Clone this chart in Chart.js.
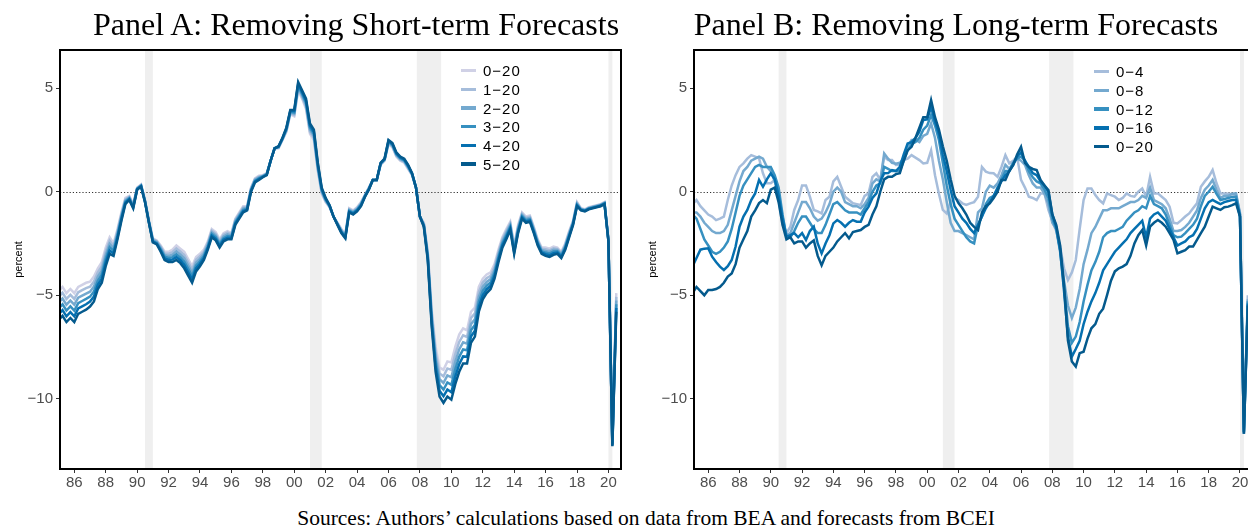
<!DOCTYPE html>
<html>
<head>
<meta charset="utf-8">
<script src="https://cdn.jsdelivr.net/npm/chart.js@4.4.1/dist/chart.umd.min.js"></script>
<style>
  html, body { margin: 0; padding: 0; background: #fff; }
  body { width: 1248px; height: 527px; overflow: hidden; position: relative; font-family: "Liberation Sans", Arial, sans-serif; }
  canvas { position: absolute; top: 0; }
  #chartA { left: 0; }
  #chartB { left: 634px; }
  .title { position: absolute; top: 8px; font-family: "Liberation Serif", "Times New Roman", serif; font-size: 32px; line-height: 32px; white-space: nowrap; transform: translateX(-50%); color: #000; }
  .legend { position: absolute; font-size: 15px; letter-spacing: 1px; color: #000; }
  .legend .item { display: flex; align-items: center; height: 18.7px; }
  .legend .swatch { width: 15px; height: 3.5px; margin-right: 7px; }
  .sources { position: absolute; left: 646px; top: 508px; transform: translateX(-50%); font-family: "Liberation Serif", "Times New Roman", serif; font-size: 21.5px; line-height: 21.5px; white-space: nowrap; color: #000; }
</style>
</head>
<body>
<canvas id="chartA" width="640" height="500"></canvas>
<canvas id="chartB" width="640" height="500"></canvas>
<div class="title" style="left:356px">Panel A: Removing Short-term Forecasts</div>
<div class="title" style="left:956px">Panel B: Removing Long-term Forecasts</div>
<div class="legend" id="legendA" style="left:461px; top:61.3px"></div>
<div class="legend" id="legendB" style="left:1094px; top:62.4px"></div>
<div class="sources">Sources: Authors’ calculations based on data from BEA and forecasts from BCEI</div>
<script>
// quarterly observations, 1985Q1 .. 2020Q3
const firstYear = 1985;
const xMin = 1985.09, xMax = 2020.8;
const xTicks = [1986, 1988, 1990, 1992, 1994, 1996, 1998, 2000, 2002, 2004, 2006, 2008, 2010, 2012, 2014, 2016, 2018, 2020];
const xTickLabels = ['86', '88', '90', '92', '94', '96', '98', '00', '02', '04', '06', '08', '10', '12', '14', '16', '18', '20'];
const yMin = -13.4, yMax = 6.85;
const yTicks = [-10, -5, 0, 5];
const yTickLabels = ['\u221210', '\u22125', '0', '5'];
const recessions = [[1990.5, 1991.0], [2001.0, 2001.75], [2007.8, 2009.35], [2020.0, 2020.25]];

// Panel A: removing short-term forecasts
const panelA_0_20 = [
  -4.8, -4.6, -4.9, -4.7,
  -4.9, -4.6, -4.5, -4.4,
  -4.35, -4.1, -3.7, -3.4,
  -2.7, -2.2, -2.5, -1.8,
  -1.0, -0.3, -0.2, -0.6,
  0.2, 0.35, -0.4, -1.4,
  -2.25, -2.35, -2.6, -2.9,
  -2.9, -2.8, -2.6, -2.75,
  -2.9, -3.25, -3.6, -3.15,
  -3.0, -2.8, -2.4, -1.8,
  -1.95, -2.3, -2.0, -1.9,
  -2.0, -1.3, -1.0, -0.7,
  -0.7, 0.2, 0.65, 0.77,
  0.8, 0.9, 1.5, 2.1,
  2.1, 2.5, 2.9, 3.75,
  3.65, 4.9, 4.5, 4.0,
  2.8, 2.5, 1.0, -0.1,
  -0.5, -0.75, -1.2, -1.5,
  -1.8, -2.05, -0.8, -0.9,
  -0.75, -0.5, -0.15, 0.2,
  0.57, 0.57, 1.3, 1.5,
  2.3, 2.15, 1.7, 1.5,
  1.4, 1.1, 0.8, 0.2,
  -1.2, -1.5, -2.9, -5.7,
  -7.5, -8.5, -8.6, -8.2,
  -8.25, -7.5, -6.9, -6.6,
  -6.7, -5.8, -5.6, -4.6,
  -4.2, -4.0, -3.9, -3.5,
  -2.8, -2.2, -1.8, -1.45,
  -2.6, -1.6, -1.0, -1.2,
  -1.15, -1.7, -2.3, -2.7,
  -2.7, -2.75, -2.65, -2.7,
  -2.9, -2.5, -1.9, -1.4,
  -0.5, -0.8, -0.85, -0.75,
  -0.7, -0.65, -0.6, -0.5,
  -2.3, -12.1, -4.9
];
const panelA_1_20 = [
  -5.08, -4.88, -5.18, -4.98,
  -5.18, -4.86, -4.76, -4.66,
  -4.59, -4.34, -3.9, -3.6,
  -2.88, -2.36, -2.62, -1.9,
  -1.08, -0.36, -0.24, -0.64,
  0.18, 0.33, -0.42, -1.42,
  -2.29, -2.39, -2.66, -2.98,
  -3.0, -2.92, -2.74, -2.89,
  -3.06, -3.41, -3.76, -3.29,
  -3.12, -2.9, -2.48, -1.88,
  -2.03, -2.38, -2.08, -1.98,
  -2.06, -1.36, -1.06, -0.76,
  -0.74, 0.16, 0.61, 0.73,
  0.78, 0.88, 1.5, 2.1,
  2.12, 2.52, 2.94, 3.79,
  3.71, 4.98, 4.58, 4.1,
  2.9, 2.6, 1.08, -0.04,
  -0.46, -0.73, -1.2, -1.52,
  -1.84, -2.09, -0.84, -0.94,
  -0.79, -0.54, -0.17, 0.18,
  0.57, 0.57, 1.32, 1.52,
  2.34, 2.19, 1.74, 1.54,
  1.44, 1.14, 0.82, 0.2,
  -1.2, -1.54, -2.98, -5.86,
  -7.74, -8.78, -8.92, -8.54,
  -8.61, -7.86, -7.26, -6.94,
  -7.02, -6.1, -5.88, -4.84,
  -4.4, -4.18, -4.06, -3.64,
  -2.92, -2.3, -1.9, -1.53,
  -2.68, -1.68, -1.06, -1.26,
  -1.21, -1.76, -2.36, -2.76,
  -2.78, -2.83, -2.73, -2.76,
  -2.96, -2.56, -1.96, -1.44,
  -0.54, -0.82, -0.87, -0.77,
  -0.72, -0.67, -0.62, -0.52,
  -2.32, -12.14, -5.08
];
const panelA_2_20 = [
  -5.36, -5.16, -5.46, -5.26,
  -5.46, -5.12, -5.02, -4.92,
  -4.83, -4.58, -4.1, -3.8,
  -3.06, -2.52, -2.74, -2.0,
  -1.16, -0.42, -0.28, -0.68,
  0.16, 0.31, -0.44, -1.44,
  -2.33, -2.43, -2.72, -3.06,
  -3.1, -3.04, -2.88, -3.03,
  -3.22, -3.57, -3.92, -3.43,
  -3.24, -3.0, -2.56, -1.96,
  -2.11, -2.46, -2.16, -2.06,
  -2.12, -1.42, -1.12, -0.82,
  -0.78, 0.12, 0.57, 0.69,
  0.76, 0.86, 1.5, 2.1,
  2.14, 2.54, 2.98, 3.83,
  3.77, 5.06, 4.66, 4.2,
  3.0, 2.7, 1.16, 0.02,
  -0.42, -0.71, -1.2, -1.54,
  -1.88, -2.13, -0.88, -0.98,
  -0.83, -0.58, -0.19, 0.16,
  0.57, 0.57, 1.34, 1.54,
  2.38, 2.23, 1.78, 1.58,
  1.48, 1.18, 0.84, 0.2,
  -1.2, -1.58, -3.06, -6.02,
  -7.98, -9.06, -9.24, -8.88,
  -8.97, -8.22, -7.62, -7.28,
  -7.34, -6.4, -6.16, -5.08,
  -4.6, -4.36, -4.22, -3.78,
  -3.04, -2.4, -2.0, -1.61,
  -2.76, -1.76, -1.12, -1.32,
  -1.27, -1.82, -2.42, -2.82,
  -2.86, -2.91, -2.81, -2.82,
  -3.02, -2.62, -2.02, -1.48,
  -0.58, -0.84, -0.89, -0.79,
  -0.74, -0.69, -0.64, -0.54,
  -2.34, -12.18, -5.26
];
const panelA_3_20 = [
  -5.64, -5.44, -5.74, -5.54,
  -5.74, -5.38, -5.28, -5.18,
  -5.07, -4.82, -4.3, -4.0,
  -3.24, -2.68, -2.86, -2.1,
  -1.24, -0.48, -0.32, -0.72,
  0.14, 0.29, -0.46, -1.46,
  -2.37, -2.47, -2.78, -3.14,
  -3.2, -3.16, -3.02, -3.17,
  -3.38, -3.73, -4.08, -3.57,
  -3.36, -3.1, -2.64, -2.04,
  -2.19, -2.54, -2.24, -2.14,
  -2.18, -1.48, -1.18, -0.88,
  -0.82, 0.08, 0.53, 0.65,
  0.74, 0.84, 1.5, 2.1,
  2.16, 2.56, 3.02, 3.87,
  3.83, 5.14, 4.74, 4.3,
  3.1, 2.8, 1.24, 0.08,
  -0.38, -0.69, -1.2, -1.56,
  -1.92, -2.17, -0.92, -1.02,
  -0.87, -0.62, -0.21, 0.14,
  0.57, 0.57, 1.36, 1.56,
  2.42, 2.27, 1.82, 1.62,
  1.52, 1.22, 0.86, 0.2,
  -1.2, -1.62, -3.14, -6.18,
  -8.22, -9.34, -9.56, -9.22,
  -9.33, -8.58, -7.98, -7.62,
  -7.66, -6.7, -6.44, -5.32,
  -4.8, -4.54, -4.38, -3.92,
  -3.16, -2.5, -2.1, -1.69,
  -2.84, -1.84, -1.18, -1.38,
  -1.33, -1.88, -2.48, -2.88,
  -2.94, -2.99, -2.89, -2.88,
  -3.08, -2.68, -2.08, -1.52,
  -0.62, -0.86, -0.91, -0.81,
  -0.76, -0.71, -0.66, -0.56,
  -2.36, -12.22, -5.44
];
const panelA_4_20 = [
  -5.92, -5.72, -6.02, -5.82,
  -6.02, -5.64, -5.54, -5.44,
  -5.31, -5.06, -4.5, -4.2,
  -3.42, -2.84, -2.98, -2.2,
  -1.32, -0.54, -0.36, -0.76,
  0.12, 0.27, -0.48, -1.48,
  -2.41, -2.51, -2.84, -3.22,
  -3.3, -3.28, -3.16, -3.31,
  -3.54, -3.89, -4.24, -3.71,
  -3.48, -3.2, -2.72, -2.12,
  -2.27, -2.62, -2.32, -2.22,
  -2.24, -1.54, -1.24, -0.94,
  -0.86, 0.04, 0.49, 0.61,
  0.72, 0.82, 1.5, 2.1,
  2.18, 2.58, 3.06, 3.91,
  3.89, 5.22, 4.82, 4.4,
  3.2, 2.9, 1.32, 0.14,
  -0.34, -0.67, -1.2, -1.58,
  -1.96, -2.21, -0.96, -1.06,
  -0.91, -0.66, -0.23, 0.12,
  0.57, 0.57, 1.38, 1.58,
  2.46, 2.31, 1.86, 1.66,
  1.56, 1.26, 0.88, 0.2,
  -1.2, -1.66, -3.22, -6.34,
  -8.46, -9.62, -9.88, -9.56,
  -9.69, -8.94, -8.34, -7.96,
  -7.98, -7.0, -6.72, -5.56,
  -5.0, -4.72, -4.54, -4.06,
  -3.28, -2.6, -2.2, -1.77,
  -2.92, -1.92, -1.24, -1.44,
  -1.39, -1.94, -2.54, -2.94,
  -3.02, -3.07, -2.97, -2.94,
  -3.14, -2.74, -2.14, -1.56,
  -0.66, -0.88, -0.93, -0.83,
  -0.78, -0.73, -0.68, -0.58,
  -2.38, -12.26, -5.62
];
const panelA_5_20 = [
  -6.2, -6.0, -6.3, -6.1,
  -6.3, -5.9, -5.8, -5.7,
  -5.55, -5.3, -4.7, -4.4,
  -3.6, -3.0, -3.1, -2.3,
  -1.4, -0.6, -0.4, -0.8,
  0.1, 0.25, -0.5, -1.5,
  -2.45, -2.55, -2.9, -3.3,
  -3.4, -3.4, -3.3, -3.45,
  -3.7, -4.05, -4.4, -3.85,
  -3.6, -3.3, -2.8, -2.2,
  -2.35, -2.7, -2.4, -2.3,
  -2.3, -1.6, -1.3, -1.0,
  -0.9, 0.0, 0.45, 0.57,
  0.7, 0.8, 1.5, 2.1,
  2.2, 2.6, 3.1, 3.95,
  3.95, 5.3, 4.9, 4.5,
  3.3, 3.0, 1.4, 0.2,
  -0.3, -0.65, -1.2, -1.6,
  -2.0, -2.25, -1.0, -1.1,
  -0.95, -0.7, -0.25, 0.1,
  0.57, 0.57, 1.4, 1.6,
  2.5, 2.35, 1.9, 1.7,
  1.6, 1.3, 0.9, 0.2,
  -1.2, -1.7, -3.3, -6.5,
  -8.7, -9.9, -10.2, -9.9,
  -10.05, -9.3, -8.7, -8.3,
  -8.3, -7.3, -7.0, -5.8,
  -5.2, -4.9, -4.7, -4.2,
  -3.4, -2.7, -2.3, -1.85,
  -3.0, -2.0, -1.3, -1.5,
  -1.45, -2.0, -2.6, -3.0,
  -3.1, -3.15, -3.05, -3.0,
  -3.2, -2.8, -2.2, -1.6,
  -0.7, -0.9, -0.95, -0.85,
  -0.8, -0.75, -0.7, -0.6,
  -2.4, -12.3, -5.8
];

// Panel B: removing long-term forecasts
const panelB_0_4 = [
  -0.6, -0.4, -0.7, -0.9,
  -1.1, -1.2, -1.37, -1.3,
  -1.2, -0.4, 0.3, 0.8,
  1.2, 1.37, 1.6, 1.77,
  1.7, 1.61, 0.89, 0.41,
  0.41, 0.57, -0.4, -1.6,
  -2.0, -1.69, -0.88, -0.4,
  0.3, 0.3, -0.24, -0.88,
  -0.95, -1.05, -0.4, -0.24,
  0.5, 0.72, 0.24, -0.24,
  -0.4, -0.56, -0.6, -0.64,
  -0.2, -0.08, 0.72, 0.89,
  0.57, 1.69, 1.53, 1.53,
  1.29, 1.3, 1.53, 1.6,
  1.77, 1.65, 1.53, 1.37,
  1.4, 2.0, 0.8, -0.1,
  -0.88, -1.05, -0.5, -0.3,
  -0.4, -0.56, -0.64, -0.56,
  -0.5, -0.24, 1.2, 0.97,
  0.9, 0.89, 0.72, 1.2,
  1.77, 1.37, 1.5, 1.69,
  0.57, 0.2, -0.24, -0.3,
  -0.4, -0.08, -0.08, -0.88,
  -1.4, -1.9, -2.65, -3.7,
  -4.27, -3.9, -3.3, -1.8,
  -0.4, 0.16, 0.16, -0.16,
  -0.4, -0.56, -0.08, -0.16,
  -0.24, -0.4, -0.3, -0.08,
  -0.2, -0.24, 0.0, 0.16,
  -0.24, 0.72, -0.08, -0.08,
  -0.24, -0.4, -0.72, -1.5,
  -1.53, -1.37, -1.2, -1.05,
  -0.8, -0.56, 0.24, 0.5,
  0.72, 1.05, 0.41, -0.08,
  -0.08, -0.1, -0.12, -0.16,
  -1.0, -11.5, -5.0
];
const panelB_0_8 = [
  -1.0, -1.0, -1.2, -1.5,
  -1.7, -1.9, -2.0, -2.0,
  -1.9, -1.6, -0.9, -0.2,
  0.5, 1.0, 1.2, 1.5,
  1.6, 1.7, 1.6, 1.2,
  1.0, 0.5, -0.1, -1.2,
  -2.1, -2.0, -1.5, -1.0,
  -0.5, -0.5, -0.8, -1.2,
  -1.4, -1.3, -1.0, -0.6,
  0.0, 0.2, 0.0, -0.5,
  -0.6, -0.7, -0.7, -0.8,
  -0.6, -0.3, 0.4, 0.6,
  0.5, 1.85, 1.6, 1.4,
  1.35, 1.4, 1.6, 2.2,
  2.5, 2.5, 2.4, 2.7,
  2.8, 3.3, 2.6, 1.5,
  0.6, -0.5, -1.5, -1.9,
  -1.9, -2.0, -2.1, -2.2,
  -2.3, -1.0, -0.8, 0.0,
  0.3, 0.2, 0.4, 0.8,
  1.3, 1.1, 1.4, 1.6,
  1.5, 1.3, 0.8, 0.4,
  0.2, 0.2, -0.1, -0.6,
  -1.5, -1.8, -2.8, -4.3,
  -5.5, -6.1, -5.6, -4.7,
  -3.5, -2.8, -2.0, -1.7,
  -1.3, -0.9, -0.9, -0.8,
  -0.8, -0.8, -0.7, -0.6,
  -0.5, -0.5, -0.4, -0.2,
  -0.3, 0.2, -0.4, -0.5,
  -0.6, -0.8, -1.3, -1.9,
  -1.9, -1.85, -1.7, -1.5,
  -1.2, -0.9, -0.3, 0.1,
  0.3, 0.57, 0.1, -0.3,
  -0.2, -0.2, -0.1, -0.08,
  -1.1, -11.6, -5.2
];
const panelB_0_12 = [
  -1.1, -1.3, -1.8, -2.3,
  -2.6, -2.9, -3.0, -2.9,
  -2.7, -2.4, -1.8, -1.0,
  -0.2, 0.3, 0.6, 0.9,
  1.2, 1.3, 1.2, 1.2,
  1.2, 0.8, 0.2, -1.1,
  -2.2, -2.2, -1.9, -1.5,
  -1.2, -1.2, -1.5, -1.8,
  -2.0, -2.0, -1.6, -1.1,
  -0.6, -0.5, -0.7, -0.9,
  -1.0, -1.0, -1.0, -1.1,
  -0.8, -0.5, 0.0, 0.3,
  0.4, 1.2, 1.1, 1.0,
  1.0, 1.0, 1.5, 2.0,
  2.3, 2.4, 2.6, 3.0,
  3.2, 3.7, 3.2, 2.5,
  1.4, 0.3, -0.6, -1.3,
  -1.6, -1.9, -2.2, -2.4,
  -2.5, -1.6, -1.2, -0.6,
  -0.3, -0.2, 0.1, 0.6,
  1.0, 1.0, 1.4, 1.6,
  1.7, 1.5, 1.0, 0.7,
  0.5, 0.4, 0.1, -0.3,
  -1.3, -1.8, -2.9, -4.6,
  -6.5, -7.3, -7.0, -6.3,
  -5.3, -4.5, -3.8, -3.4,
  -2.9, -2.2, -2.0, -1.9,
  -1.9, -1.8, -1.7, -1.4,
  -1.2, -1.0, -0.9, -0.7,
  -0.8, -0.2, -0.6, -0.7,
  -0.8, -1.1, -1.6, -2.1,
  -2.2, -2.17, -2.0, -1.8,
  -1.6, -1.3, -0.7, -0.2,
  0.0, 0.24, -0.1, -0.4,
  -0.35, -0.3, -0.25, -0.24,
  -1.1, -11.6, -5.3
];
const panelB_0_16 = [
  -3.6, -3.2, -2.8, -2.75,
  -2.73, -3.14, -3.4, -3.62,
  -3.78, -3.6, -3.3, -2.65,
  -1.69, -1.2, -0.88, -0.4,
  -0.08, 0.57, 0.24, 0.6,
  0.89, 0.6, -0.2, -1.3,
  -2.17, -2.1, -2.0, -2.2,
  -2.0, -2.33, -1.9, -1.69,
  -2.5, -2.98, -2.5, -2.1,
  -1.53, -1.37, -1.5, -1.69,
  -1.5, -1.37, -1.45, -1.45,
  -1.0, -0.72, -0.3, -0.08,
  0.5, 0.89, 0.9, 1.05,
  1.0, 1.2, 1.8, 2.33,
  2.4, 2.6, 2.9, 3.46,
  3.5, 4.1, 3.4, 2.8,
  1.8, 1.0, 0.1, -0.7,
  -1.0, -1.3, -1.5, -1.8,
  -2.0, -1.6, -1.2, -0.8,
  -0.5, -0.2, 0.2, 0.5,
  0.8, 1.0, 1.3, 1.7,
  1.9, 1.5, 1.2, 0.9,
  0.8, 0.5, 0.3, 0.0,
  -1.1, -1.7, -2.8, -4.8,
  -7.0, -7.97, -7.6, -7.2,
  -6.4, -5.8, -5.3, -4.9,
  -4.4, -3.8, -3.5, -3.2,
  -2.9, -2.7, -2.5, -2.3,
  -2.0, -1.8, -1.6, -1.4,
  -2.2, -1.3, -1.1, -1.0,
  -1.2, -1.4, -1.8, -2.2,
  -2.6, -2.5, -2.4, -2.2,
  -2.1, -1.8, -1.3, -0.8,
  -0.5, -0.4, -0.5, -0.6,
  -0.5, -0.45, -0.4, -0.4,
  -1.2, -11.7, -5.4
];
const panelB_0_20 = [
  -4.9, -4.6, -4.8, -5.0,
  -4.75, -4.75, -4.7, -4.6,
  -4.4, -4.1, -3.95, -3.5,
  -2.7, -2.3, -1.9, -1.2,
  -0.9, -0.55, -0.4, -0.55,
  0.1, 0.2, -0.5, -1.6,
  -2.3, -2.2, -2.5, -2.4,
  -2.4, -2.7, -2.5, -2.35,
  -3.1, -3.55, -3.1, -2.9,
  -2.7, -2.4, -2.2, -2.0,
  -2.25, -1.95, -1.9, -1.85,
  -1.7, -1.6, -1.1, -0.7,
  0.0, 0.6, 0.72, 0.72,
  0.85, 0.9, 1.5, 2.0,
  2.17, 2.6, 3.1, 3.6,
  3.6, 4.43, 3.6, 3.0,
  2.2, 1.5, 0.6, -0.2,
  -0.55, -0.8, -1.1, -1.5,
  -1.7, -1.85, -1.0, -0.7,
  -0.56, -0.3, 0.0, 0.57,
  0.57, 1.0, 1.3, 1.8,
  2.17, 1.4, 1.2, 1.1,
  1.05, 0.57, 0.3, 0.08,
  -1.1, -1.6, -2.6, -4.5,
  -7.2, -8.2, -8.45, -7.8,
  -7.73, -7.1, -6.6, -6.4,
  -5.9, -5.65, -5.0, -4.3,
  -3.85, -3.7, -3.62, -3.5,
  -3.1, -2.5, -2.1, -1.85,
  -2.6, -1.69, -1.5, -1.37,
  -1.5, -1.69, -2.0, -2.33,
  -2.98, -2.9, -2.82, -2.65,
  -2.65, -2.33, -2.0, -1.69,
  -1.2, -0.72, -0.8, -0.88,
  -0.75, -0.72, -0.65, -0.56,
  -1.2, -11.7, -5.5
];

const labelsA = ['0\u221220', '1\u221220', '2\u221220', '3\u221220', '4\u221220', '5\u221220'];
const colorsA = ['#d0d1e6', '#a6bddb', '#74a9cf', '#3690c0', '#0570b0', '#045a8d'];
const labelsB = ['0\u22124', '0\u22128', '0\u221212', '0\u221216', '0\u221220'];
const colorsB = ['#a6bddb', '#74a9cf', '#3690c0', '#0570b0', '#045a8d'];

const seriesA = [panelA_0_20, panelA_1_20, panelA_2_20, panelA_3_20, panelA_4_20, panelA_5_20];
const seriesB = [panelB_0_4, panelB_0_8, panelB_0_12, panelB_0_16, panelB_0_20];

const quarters = panelA_5_20.map((_, i) => firstYear + i / 4);

// shaded recessions, dotted zero line and panel box
const panelDecor = {
    id: 'panelDecor',
    beforeDatasetsDraw(chart) {
        const { ctx, chartArea: a, scales: { x, y } } = chart;
        ctx.save();
        ctx.beginPath();
        ctx.rect(a.left, a.top, a.right - a.left, a.bottom - a.top);
        ctx.clip();
        ctx.fillStyle = '#efefef';
        recessions.forEach(([s, e]) => {
            const x0 = x.getPixelForValue(s);
            const x1 = x.getPixelForValue(e);
            ctx.fillRect(x0, a.top, x1 - x0, a.bottom - a.top);
        });
        const y0 = Math.round(y.getPixelForValue(0)) + 0.5;
        ctx.strokeStyle = '#333';
        ctx.lineWidth = 1;
        ctx.setLineDash([1.2, 2]);
        ctx.beginPath();
        ctx.moveTo(a.left, y0);
        ctx.lineTo(a.right, y0);
        ctx.stroke();
        ctx.restore();
    },
    afterDatasetsDraw(chart) {
        const { ctx, chartArea: a } = chart;
        ctx.save();
        ctx.strokeStyle = '#000';
        ctx.lineWidth = 2;
        ctx.strokeRect(a.left, a.top, a.right - a.left, a.bottom - a.top);
        ctx.restore();
    }
};

function makePanel(canvasId, series, labels, colors, padRight) {
    return new Chart(document.getElementById(canvasId), {
        type: 'line',
        data: {
            datasets: series.map((vals, i) => ({
                label: labels[i],
                data: vals.map((v, j) => ({ x: quarters[j], y: v })),
                borderColor: colors[i],
                backgroundColor: colors[i],
                borderWidth: 2.5,
                pointRadius: 0,
                tension: 0,
                fill: false,
                order: series.length - i
            }))
        },
        options: {
            responsive: false,
            animation: false,
            devicePixelRatio: 1,
            layout: { padding: { top: 50, right: padRight, bottom: 0, left: 0 } },
            plugins: { legend: { display: false }, tooltip: { enabled: false } },
            scales: {
                x: {
                    type: 'linear',
                    min: xMin,
                    max: xMax,
                    afterBuildTicks: s => { s.ticks = xTicks.map(v => ({ value: v })); },
                    afterFit: s => { s.height = 31; },
                    border: { display: false },
                    grid: { drawOnChartArea: false, drawTicks: true, tickLength: 4, color: '#333' },
                    ticks: {
                        autoSkip: false,
                        maxRotation: 0,
                        padding: 1,
                        color: '#4d4d4d',
                        font: { family: '"Liberation Sans", Arial, sans-serif', size: 15 },
                        callback: v => xTickLabels[xTicks.indexOf(v)]
                    }
                },
                y: {
                    min: yMin,
                    max: yMax,
                    afterBuildTicks: s => { s.ticks = yTicks.map(v => ({ value: v })); },
                    afterFit: s => { s.width = 60; },
                    border: { display: false },
                    grid: { drawOnChartArea: false, drawTicks: true, tickLength: 4, color: '#333' },
                    ticks: {
                        padding: 3,
                        color: '#4d4d4d',
                        font: { family: '"Liberation Sans", Arial, sans-serif', size: 15 },
                        callback: v => yTickLabels[yTicks.indexOf(v)]
                    },
                    title: {
                        display: true,
                        text: 'percent',
                        color: '#000',
                        padding: { top: 12, bottom: 0 },
                        font: { family: '"Liberation Sans", Arial, sans-serif', size: 11 }
                    }
                }
            }
        },
        plugins: [panelDecor]
    });
}

function buildLegend(elId, labels, colors) {
    const el = document.getElementById(elId);
    labels.forEach((lab, i) => {
        const row = document.createElement('div');
        row.className = 'item';
        const sw = document.createElement('span');
        sw.className = 'swatch';
        sw.style.background = colors[i];
        const tx = document.createElement('span');
        tx.textContent = lab;
        row.appendChild(sw);
        row.appendChild(tx);
        el.appendChild(row);
    });
}

makePanel('chartA', seriesA, labelsA, colorsA, 19);
makePanel('chartB', seriesB, labelsB, colorsB, 21.5);
buildLegend('legendA', labelsA, colorsA);
buildLegend('legendB', labelsB, colorsB);
</script>
</body>
</html>
